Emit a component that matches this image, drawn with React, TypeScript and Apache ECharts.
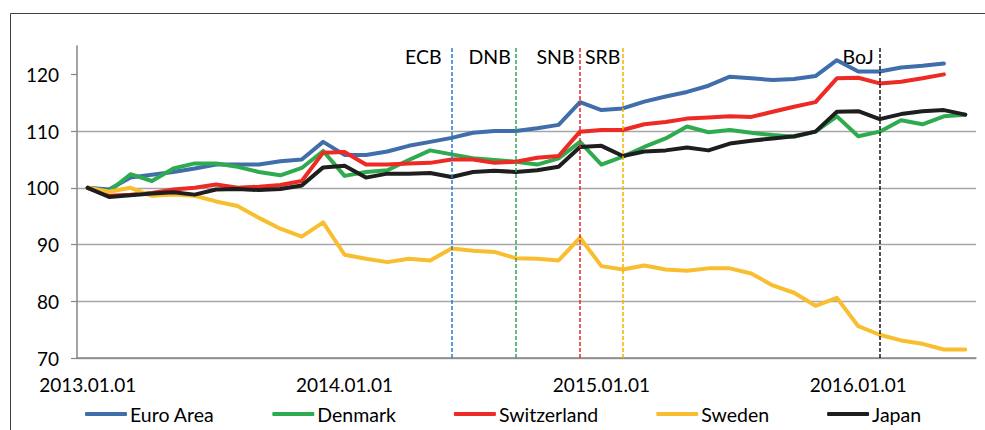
import React, { useEffect, useRef } from 'react';
import * as echarts from 'echarts';

const categories: string[] = [];
for (let y = 2013; y <= 2016; y++) {
  for (let m = 1; m <= 12; m++) {
    if (y === 2016 && m > 6) break;
    categories.push(`${y}.${String(m).padStart(2, '0')}.01`);
  }
}

const seriesNames = ['Euro Area', 'Denmark', 'Switzerland', 'Sweden', 'Japan'];

const euroArea = [100, 99.7, 101.8, 102.3, 102.8, 103.4, 104.1, 104.1, 104.1, 104.7, 105.0, 108.1,
  105.8, 105.8, 106.4, 107.4, 108.1, 108.8, 109.7, 110.0, 110.0, 110.5, 111.1, 115.1,
  113.7, 114.0, 115.2, 116.1, 116.9, 118.0, 119.6, 119.3, 119.0, 119.2, 119.7, 122.5,
  120.5, 120.5, 121.2, 121.5, 121.9, null];
const denmark = [100, 99.4, 102.4, 101.2, 103.4, 104.3, 104.3, 103.7, 102.8, 102.2, 103.5, 106.5,
  102.1, 102.8, 103.1, 104.9, 106.6, 105.9, 105.2, 104.9, 104.6, 104.1, 105.2, 108.1,
  104.1, 105.5, 107.2, 108.7, 110.8, 109.8, 110.2, 109.7, 109.3, 109.0, 109.9, 112.6,
  109.1, 109.9, 111.9, 111.2, 112.6, 112.9];
const switzerland = [100, 98.6, 98.8, 99.1, 99.7, 100.0, 100.6, 100.0, 100.2, 100.5, 101.2, 106.2,
  106.3, 104.1, 104.1, 104.3, 104.4, 105.0, 105.0, 104.4, 104.6, 105.3, 105.6, 109.9,
  110.2, 110.2, 111.2, 111.6, 112.2, 112.4, 112.6, 112.5, 113.4, 114.3, 115.1, 119.3,
  119.4, 118.4, 118.7, 119.3, 120.0, null];
const sweden = [100, 99.3, 100.0, 98.6, 98.8, 98.6, 97.6, 96.8, 94.7, 92.8, 91.4, 93.9,
  88.2, 87.5, 86.9, 87.5, 87.2, 89.3, 88.9, 88.7, 87.6, 87.5, 87.2, 91.2,
  86.2, 85.6, 86.3, 85.6, 85.4, 85.8, 85.8, 84.9, 82.8, 81.5, 79.2, 80.6,
  75.6, 74.1, 73.1, 72.5, 71.5, 71.5];
const japan = [100, 98.4, 98.7, 99.0, 99.2, 98.8, 99.7, 99.8, 99.6, 99.8, 100.4, 103.6,
  103.9, 101.8, 102.5, 102.5, 102.6, 101.9, 102.8, 103.0, 102.8, 103.1, 103.7, 107.2,
  107.4, 105.6, 106.4, 106.6, 107.1, 106.6, 107.8, 108.3, 108.7, 109.1, 109.9, 113.4,
  113.5, 112.1, 113.0, 113.5, 113.7, 112.9];

const yTicks = [70, 80, 90, 100, 110, 120];

const eventNames = ['ECB', 'DNB', 'SNB', 'SRB', 'BoJ'];
const eventDates = ['2014.06.01', '2014.09.01', '2014.12.01', '2015.02.01', '2016.02.01'];

// styles
const seriesColors = ['#3F6EAB', '#2EAB4F', '#EE2A24', '#F9BE2F', '#1E1E1E'];
const eventColors = ['#2A7BD0', '#35A852', '#E02A2A', '#F2B400', '#1A1A1A'];
const eventLabelShift = [-10, -5, -5.5, -2.5, -6];
const FONT = 'Lato, "Liberation Sans", sans-serif';

export default function App() {
  const ref = useRef<HTMLDivElement>(null);
  useEffect(() => {
    if (!ref.current) return;
    const chart = echarts.init(ref.current, undefined, { renderer: 'svg' });
    const dataSets = [euroArea, denmark, switzerland, sweden, japan];
    const series: any[] = seriesNames.map((name, k) => ({
      name,
      type: 'line',
      data: dataSets[k],
      symbol: 'none',
      connectNulls: false,
      lineStyle: { color: seriesColors[k], width: 4, cap: 'round', join: 'round' },
      itemStyle: { color: seriesColors[k] },
      z: 3,
    }));
    series[0].markLine = {
      silent: true,
      symbol: ['none', 'none'],
      animation: false,
      label: { show: false },
      data: eventDates.map((d, k) => ({
        xAxis: d,
        lineStyle: { color: eventColors[k], type: [4, 2], width: 1.5 },
      })),
    };
    chart.setOption({
      animation: false,
      textStyle: { fontFamily: FONT },
      grid: { left: 77, right: 9, top: 46, bottom: 72, containLabel: false, outerBoundsMode: 'none' },
      xAxis: {
        type: 'category',
        data: categories,
        boundaryGap: true,
        axisLine: { lineStyle: { color: '#868686', width: 1.5 } },
        axisTick: { interval: 11, length: 5, lineStyle: { color: '#868686', width: 1.2 } },
        axisLabel: { interval: 11, fontSize: 19, color: '#000', margin: 17, fontFamily: FONT },
        splitLine: { show: false },
      },
      yAxis: {
        type: 'value',
        min: 70,
        max: 125,
        interval: 10,
        axisLine: { show: true, lineStyle: { color: '#868686', width: 1.5 } },
        axisTick: { show: true, length: 6, customValues: yTicks, lineStyle: { color: '#868686', width: 1.2 } },
        axisLabel: { fontSize: 19, color: '#000', margin: 18, customValues: yTicks, fontFamily: FONT },
        splitLine: { show: true, showMaxLine: false, lineStyle: { color: '#A6A6A6', width: 1.3 } },
      },
      legend: {
        data: seriesNames,
        icon: 'roundRect',
        left: 80,
        top: 399,
        itemWidth: 42,
        itemHeight: 4,
        itemGap: 58,
        textStyle: { fontSize: 19.5, color: '#000', fontFamily: FONT, padding: [0, 0, 0, -2] },
      },
      series,
    });
    const labels = eventNames.map((name, k) => {
      const px = chart.convertToPixel({ xAxisIndex: 0 }, eventDates[k]) as number;
      return {
        type: 'text',
        x: px + eventLabelShift[k],
        y: 56,
        style: {
          text: name,
          fontSize: 19.5,
          fontFamily: FONT,
          fill: '#000',
          textAlign: 'right',
          textVerticalAlign: 'middle',
        },
      };
    });
    chart.setOption({
      graphic: {
        elements: [
          { type: 'line', shape: { x1: 10.5, y1: 13.5, x2: 985, y2: 13.5 }, style: { stroke: '#404040', lineWidth: 1 } },
          { type: 'line', shape: { x1: 10.5, y1: 13.5, x2: 10.5, y2: 430 }, style: { stroke: '#404040', lineWidth: 1 } },
          ...labels,
        ],
      },
    });
    return () => chart.dispose();
  }, []);
  return <div ref={ref} style={{ position: 'absolute', left: 0, top: 0, width: 985, height: 430 }} />;
}
